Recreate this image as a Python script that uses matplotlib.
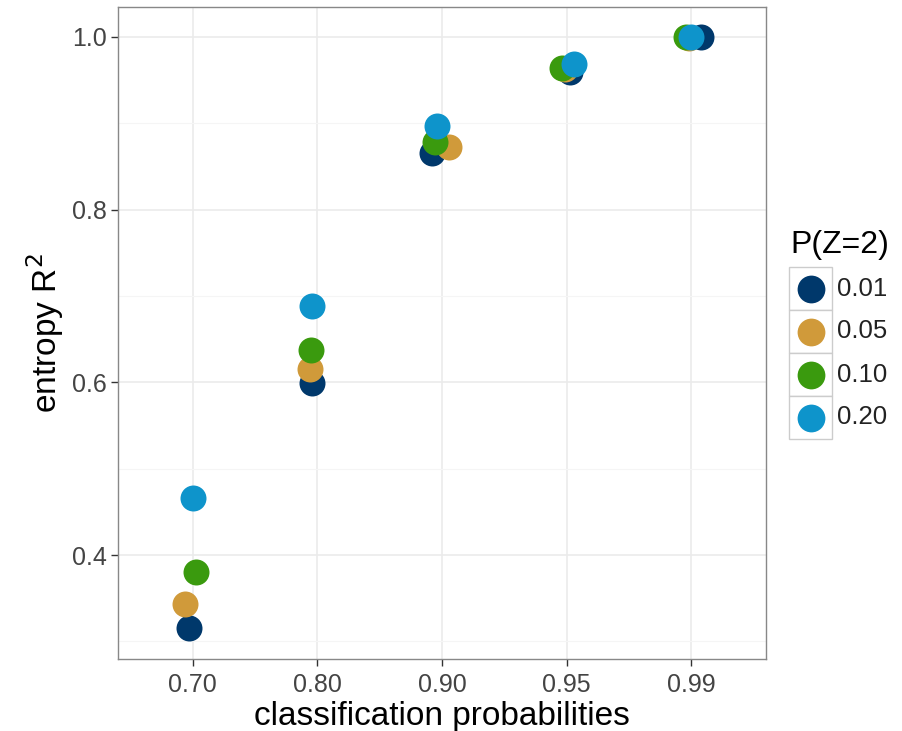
import matplotlib
matplotlib.use("Agg")
from matplotlib import pyplot as plt
from matplotlib.patches import Rectangle

plt.rcParams['font.family'] = ['Liberation Sans', 'DejaVu Sans']

# classification probabilities (discrete x axis)
classes = ["0.70", "0.80", "0.90", "0.95", "0.99"]
groups = ["0.01", "0.05", "0.10", "0.20"]
colors = ["#00386B", "#D09A3A", "#3A9A0E", "#0E94CB"]

# entropy R^2 per group, one value per class
r2 = {
    "0.01": [0.316, 0.599, 0.866, 0.959, 1.000],
    "0.05": [0.343, 0.616, 0.873, 0.963, 0.999],
    "0.10": [0.380, 0.637, 0.878, 0.964, 1.000],
    "0.20": [0.466, 0.688, 0.897, 0.969, 1.000],
}
# horizontal jitter
jitter = {
    "0.01": [-0.03, -0.04, -0.08, 0.03, 0.08],
    "0.05": [-0.06, -0.06, 0.06, -0.01, -0.02],
    "0.10": [0.03, -0.05, -0.06, -0.04, -0.04],
    "0.20": [0.00, -0.04, -0.04, 0.06, 0.00],
}

fig = plt.figure(figsize=(9.02, 7.31), dpi=100)
ax = fig.add_axes([0.1308, 0.0985, 0.7184, 0.8919])

for g, c in zip(groups, colors):
    xs = [i + 1 + j for i, j in enumerate(jitter[g])]
    ax.scatter(xs, r2[g], s=350, color=c, linewidths=0, zorder=3)

ax.set_xlim(0.4, 5.6)
ax.set_ylim(0.2796, 1.0347)
ax.set_xticks(range(1, len(classes) + 1))
ax.set_xticklabels(classes)
ax.set_yticks([0.4, 0.6, 0.8, 1.0])
ax.set_yticklabels(["0.4", "0.6", "0.8", "1.0"])
ax.set_yticks([0.3, 0.5, 0.7, 0.9], minor=True)

ax.grid(True, which='major', color='#EBEBEB', linewidth=1.2, zorder=0)
ax.grid(True, which='minor', axis='y', color='#F5F5F5', linewidth=0.8, zorder=0)
ax.set_axisbelow(True)
for sp in ax.spines.values():
    sp.set_color('#888888')
    sp.set_linewidth(1.0)
ax.tick_params(which='major', colors='#333333', labelcolor='#444444',
               labelsize=18, length=5, width=1, pad=3)
ax.tick_params(axis='x', pad=5)
ax.tick_params(which='minor', length=0)

ax.set_xlabel("classification probabilities", fontsize=24, labelpad=3)
ax.set_ylabel("entropy R$^2$", fontsize=24, labelpad=4)

# legend drawn by hand, ggplot style keys
fig.text(790 / 902, 1 - 245 / 731, "P(Z=2)", fontsize=23, ha='left', va='center')
key_w, key_h = 43 / 902, 43 / 731
x0 = 789 / 902
y_top = 1 - 267 / 731
for k, (g, c) in enumerate(zip(groups, colors)):
    y = y_top - (k + 1) * key_h
    fig.patches.append(Rectangle((x0, y), key_w, key_h, transform=fig.transFigure,
                                 facecolor='white', edgecolor='#CCCCCC', linewidth=1))
    fig.lines.append(plt.Line2D([x0 + key_w / 2], [y + key_h / 2], marker='o',
                                markersize=20, color=c, markeredgewidth=0,
                                transform=fig.transFigure))
    fig.text(x0 + key_w + 5 / 902, y + key_h / 2, g, fontsize=18.5,
             color='#222222', ha='left', va='center')

plt.savefig("out.png", dpi=100)
